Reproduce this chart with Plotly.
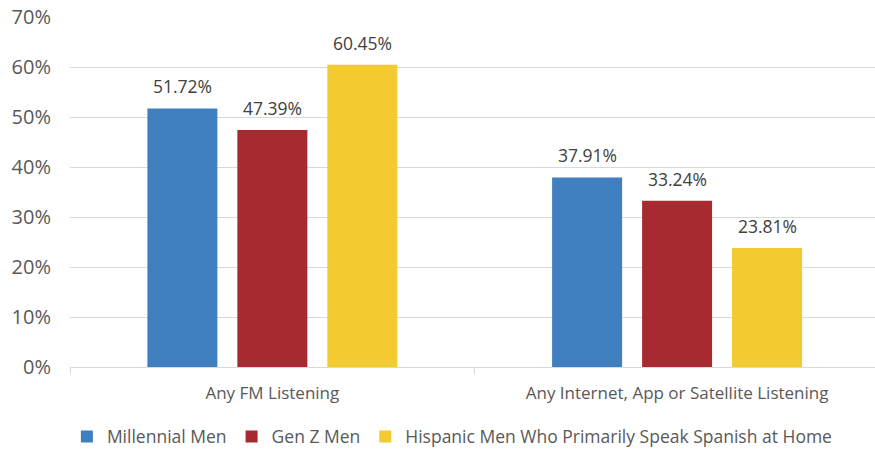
import plotly.graph_objects as go

categories = ["Any FM Listening", "Any Internet, App or Satellite Listening"]
series_names = ["Millennial Men", "Gen Z Men", "Hispanic Men Who Primarily Speak Spanish at Home"]
millennial = [51.72, 37.91]
genz = [47.39, 33.24]
hispanic = [60.45, 23.81]
colors = ["#3F7FBF", "#A62A2F", "#F3CA2F"]
y_ticks = [0, 10, 20, 30, 40, 50, 60, 70]
y_tick_labels = [f"{v}%" for v in y_ticks]

FONT = "Open Sans, sans-serif"
BARGAP = 0.333
BARGROUPGAP = 0.222
L, R, T, B, W, H = 69.5, 0, 17, 82, 875, 449
XRANGE = [-0.5, 1.489]

fig = go.Figure()
series = [millennial, genz, hispanic]
for name, vals, col in zip(series_names, series, colors):
    fig.add_trace(go.Bar(
        name=name, x=categories, y=vals, marker=dict(color=col, line=dict(width=0)),
    ))

# data labels as annotations above each bar (offset within group derived from bar gaps)
unit_px = (W - L - R) / (XRANGE[1] - XRANGE[0])
slot = unit_px * (1 - BARGAP) / len(series)
for i, vals in enumerate(series):
    dx = (i - (len(series) - 1) / 2) * slot
    for cat, v in zip(categories, vals):
        fig.add_annotation(x=cat, y=v, text=f"{v:.2f}%", showarrow=False,
                           xshift=dx, yshift=8, yanchor="bottom",
                           font=dict(size=17.5, color="#404040", family=FONT))

fig.update_layout(
    width=W, height=H,
    margin=dict(l=L, r=R, t=T, b=B, autoexpand=False),
    paper_bgcolor="white", plot_bgcolor="white",
    barmode="group", bargap=BARGAP, bargroupgap=BARGROUPGAP,
    font=dict(family=FONT, size=17, color="#595959"),
    showlegend=True,
    legend=dict(orientation="h", x=0.475, xanchor="center", y=-0.25, yanchor="bottom",
                font=dict(size=17.5, color="#595959"), itemwidth=30, traceorder="normal"),
)
fig.update_xaxes(
    range=XRANGE, showline=True, linecolor="#D9D9D9", linewidth=1,
    ticks="outside", tickson="boundaries", ticklen=6, tickcolor="#D9D9D9",
    tickfont=dict(size=17, color="#595959"), showgrid=False, ticklabelstandoff=11,
)
fig.update_yaxes(
    range=[0, 70], tickvals=y_ticks, ticktext=y_tick_labels,
    showgrid=True, gridcolor="#D9D9D9", gridwidth=1, zeroline=False,
    tickfont=dict(size=20, color="#595959"), ticklabelstandoff=18,
    showline=False,
)

fig.write_html("out.html")
